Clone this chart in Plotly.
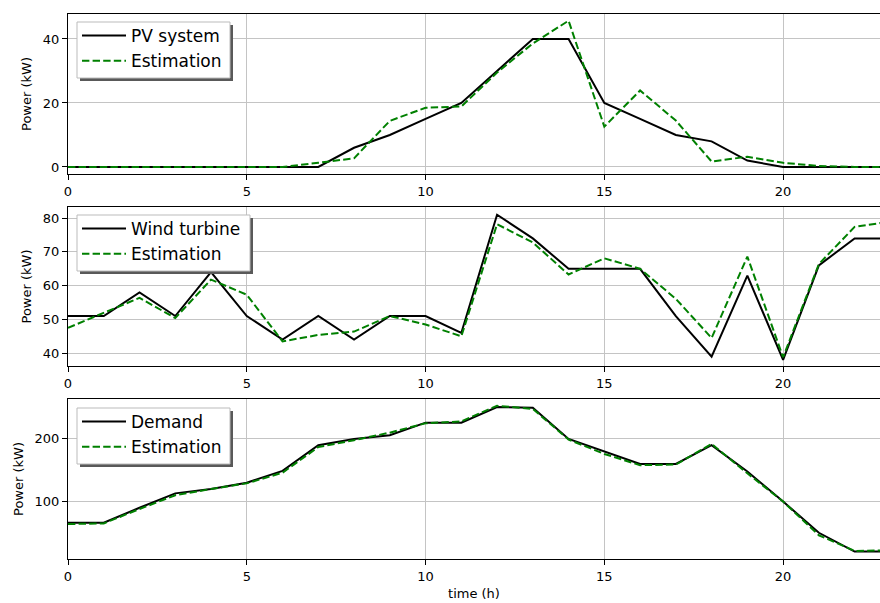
import plotly.graph_objects as go

hours = list(range(24))

pv_actual = [0, 0, 0, 0, 0, 0, 0, 0, 6, 10, 15, 20, 30, 40, 40, 20, 15, 10, 8, 2, 0, 0, 0, 0]
pv_est = [0, 0, 0, 0, 0, 0, 0, 1.3, 2.7, 14.4, 18.5, 18.9, 29.5, 38.6, 45.7, 12.6, 23.9, 14.5, 1.7, 3.2, 1.3, 0.3, 0, 0]

wind_actual = [51, 51, 58, 51, 64, 51, 44, 51, 44, 51, 51, 46, 81, 74, 65, 65, 65, 51, 39, 63, 38, 66, 74, 74]
wind_est = [47.5, 52, 56.4, 50.4, 61.8, 57.3, 43.5, 45.4, 46.4, 51, 48.5, 45, 78.2, 72.8, 63.3, 68.1, 65, 56.1, 44.5, 68.6, 38.8, 66.4, 77.4, 79]

demand_actual = [66, 66, 90, 113, 120, 130, 149, 190, 200, 206, 226, 226, 251, 250, 200, 180, 160, 160, 190, 148, 100, 50, 20, 20]
demand_est = [64, 65, 88, 110, 120, 129, 146, 187, 198, 210, 225, 228, 253, 248, 199, 176, 158, 159, 192, 145, 100, 46, 21, 22]

panels = [
    ("PV system", pv_actual, pv_est, [-2.2, 47.8], 20, "legend"),
    ("Wind turbine", wind_actual, wind_est, [36.2, 83.3], 10, "legend2"),
    ("Demand", demand_actual, demand_est, [8.1, 263.8], 100, "legend3"),
]
x_ticks = [0, 5, 10, 15, 20]

FONT = "DejaVu Sans"
W, H = 880, 603
ML, MR, MT, MB = 68, 0, 14, 44
PW, PH = W - ML - MR, H - MT - MB


def px_x(p):
    return (p - ML) / PW


def px_y(p):
    return (H - MB - p) / PH


fig = go.Figure()

domains = [[px_y(174), 1.0], [px_y(366), px_y(207)], [0.0, px_y(399)]]
# legend frame boxes in pixels: (left, top, right, bottom)
legend_boxes = [(77, 22, 230, 78), (77, 215, 250, 271), (77, 408, 230, 464)]

shapes = []
for i, (name, act, est, yr, dt, leg) in enumerate(panels):
    n = "" if i == 0 else str(i + 1)
    fig.add_trace(go.Scatter(x=hours, y=act, mode="lines", name=name,
                             line=dict(color="black", width=2),
                             xaxis="x" + n, yaxis="y" + n, legend=leg))
    fig.add_trace(go.Scatter(x=hours, y=est, mode="lines", name="Estimation",
                             line=dict(color="#008000", width=2, dash="7.4px,3.2px"),
                             xaxis="x" + n, yaxis="y" + n, legend=leg))
    fig.layout["xaxis" + n] = dict(
        domain=[0, 1], anchor="y" + n, range=[0, 22.71],
        tickvals=x_ticks, ticks="outside", ticklen=5, tickwidth=1, tickcolor="black",
        showline=True, linecolor="black", linewidth=1, mirror=True,
        showgrid=True, gridcolor="#c4c4c4", gridwidth=1, zeroline=False,
        tickfont=dict(family=FONT, size=13, color="black"),
        title=dict(text="time (h)" if i == 2 else "", font=dict(family=FONT, size=13, color="black"), standoff=6),
    )
    fig.layout["yaxis" + n] = dict(
        domain=domains[i], anchor="x" + n, range=yr, dtick=dt,
        ticks="outside", ticklen=5, tickwidth=1, tickcolor="black",
        showline=True, linecolor="black", linewidth=1,
        showgrid=True, gridcolor="#c4c4c4", gridwidth=1, zeroline=False,
        tickfont=dict(family=FONT, size=13, color="black"),
        title=dict(text="Power (kW)", font=dict(family=FONT, size=13, color="black"), standoff=8),
    )
    l, t, r, b = legend_boxes[i]
    fig.layout[leg] = dict(
        x=px_x(l), y=px_y(t - 4), xanchor="left", yanchor="top",
        bgcolor="rgba(0,0,0,0)", bordercolor="rgba(0,0,0,0)", borderwidth=0,
        font=dict(family=FONT, size=17, color="black"),
        itemwidth=44, tracegroupgap=0,
    )
    shapes.append(dict(type="rect", xref="paper", yref="paper", layer="above",
                       x0=px_x(l + 3), x1=px_x(r + 3), y0=px_y(b + 3), y1=px_y(t + 3),
                       fillcolor="#595959", line=dict(width=0)))
    shapes.append(dict(type="rect", xref="paper", yref="paper", layer="above",
                       x0=px_x(l), x1=px_x(r), y0=px_y(b), y1=px_y(t),
                       fillcolor="white", line=dict(color="#bbbbbb", width=1)))

fig.update_layout(
    width=W, height=H,
    margin=dict(l=ML, r=MR, t=MT, b=MB),
    plot_bgcolor="white", paper_bgcolor="white",
    showlegend=True, shapes=shapes,
)

fig.write_html("out.html")
